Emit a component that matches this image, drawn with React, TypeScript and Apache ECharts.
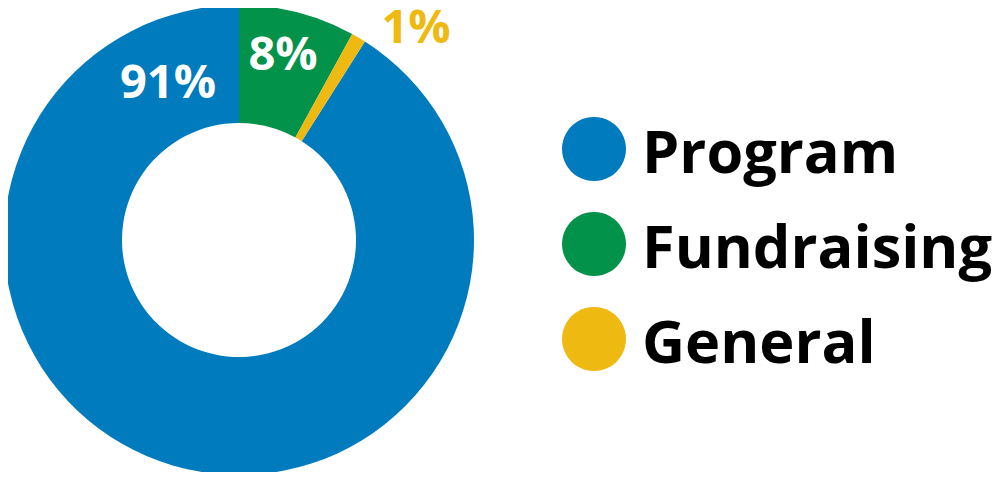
import React, { useEffect, useRef } from "react";
import * as echarts from "echarts";

const categories = ["Program", "Fundraising", "General"];
const values = [91, 8, 1];
const colors = ["#007BBD", "#03924A", "#EEB911"];
const labelColors = ["#FFFFFF", "#FFFFFF", "#EEB911"];
const labelSpots = [
  [168, 80],
  [283, 52],
  [416, 25],
];

export default function App() {
  const ref = useRef<HTMLDivElement>(null);
  useEffect(() => {
    if (!ref.current) return;
    const chart = echarts.init(ref.current, undefined, { renderer: "svg" });
    const total = values.reduce((a, b) => a + b, 0);
    chart.setOption({
      animation: false,
      legend: {
        orient: "vertical",
        left: 562,
        top: 117,
        padding: 0,
        icon: "circle",
        itemWidth: 64,
        itemHeight: 64,
        itemGap: 31,
        selectedMode: false,
        data: categories,
        textStyle: {
          fontFamily: "Open Sans",
          fontWeight: "bold",
          fontSize: 59.5,
          color: "#000000",
          padding: [0, 0, 0, 11],
        },
      },
      series: [
        {
          type: "pie",
          center: [239, 240],
          radius: [117, 235],
          startAngle: 90 + (values[0] / total) * 360,
          clockwise: true,
          avoidLabelOverlap: false,
          label: {
            show: true,
            position: "inside",
            formatter: "{c}%",
            fontFamily: "Open Sans",
            fontWeight: "bold",
            fontSize: 47,
            lineHeight: 40,
          },
          labelLine: { show: false },
          labelLayout: (p: any) => ({
            x: labelSpots[p.dataIndex][0],
            y: labelSpots[p.dataIndex][1],
            align: "center",
            verticalAlign: "middle",
          }),
          emphasis: { disabled: true },
          data: categories.map((name, i) => ({
            name,
            value: values[i],
            itemStyle: { color: colors[i] },
            label: { color: labelColors[i] },
          })),
        },
      ],
    });
    return () => chart.dispose();
  }, []);
  return <div ref={ref} style={{ width: 1000, height: 480, margin: -8 }} />;
}
